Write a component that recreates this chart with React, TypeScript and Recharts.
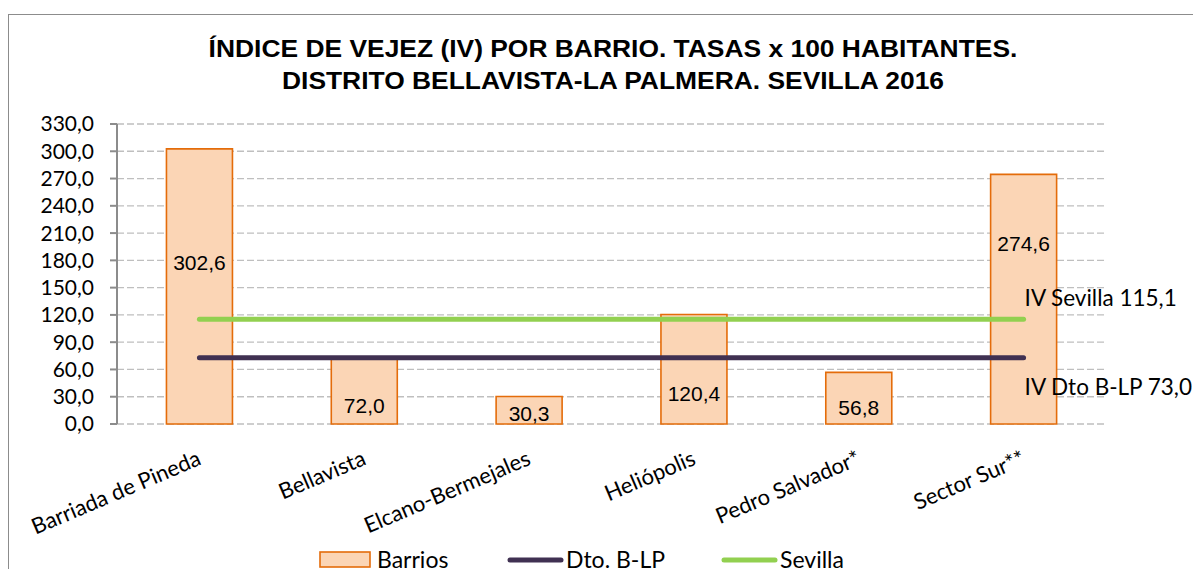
import React from "react";
import {
  ComposedChart,
  Bar,
  Line,
  XAxis,
  YAxis,
  CartesianGrid,
  LabelList,
} from "recharts";

const categories = [
  "Barriada de Pineda",
  "Bellavista",
  "Elcano-Bermejales",
  "Heliópolis",
  "Pedro Salvador*",
  "Sector Sur**",
];
const barrios = [302.6, 72.0, 30.3, 120.4, 56.8, 274.6];
const dtoBLP = [73.0, 73.0, 73.0, 73.0, 73.0, 73.0];
const sevilla = [115.1, 115.1, 115.1, 115.1, 115.1, 115.1];
// height (in axis units) at which each bar's value label sits
const labelAt = [178, 20, 12, 34, 18, 199];
const yTicks = [0, 30, 60, 90, 120, 150, 180, 210, 240, 270, 300, 330];
const edgeTicks = [0, 1, 2, 3, 4, 5, 6];

const titleLines = [
  "ÍNDICE DE VEJEZ (IV) POR BARRIO. TASAS x 100 HABITANTES.",
  "DISTRITO BELLAVISTA-LA PALMERA. SEVILLA 2016",
];

const data = categories.map((c, i) => ({
  name: c,
  barrios: barrios[i],
  dto: dtoBLP[i],
  sevilla: sevilla[i],
  labelAt: labelAt[i],
}));

const fmt = (v: number) => v.toFixed(1).replace(".", ",");

const SANS = "Lato, 'Open Sans', sans-serif";
const ARIAL = "'Liberation Sans', Arial, sans-serif";

const BAR_FILL = "#FBD5B5";
const BAR_STROKE = "#E46C0A";
const DARK = "#403152";
const GREEN = "#92D050";

const XTick = (props: any) => {
  const { x, y, payload } = props;
  const ax = x + 3;
  const ay = y + 40;
  return (
    <text
      x={ax}
      y={ay}
      transform={`rotate(-23, ${ax}, ${ay})`}
      textAnchor="end"
      fontFamily={SANS}
      fontSize={22}
      fill="#000"
    >
      {payload.value}
    </text>
  );
};

const BarLabel = (props: any) => {
  const { x, y, width, height, index } = props;
  const v = barrios[index];
  const cy = y + height - (labelAt[index] / v) * height;
  return (
    <text
      x={x + width / 2}
      y={cy}
      dy="0.36em"
      textAnchor="middle"
      fontFamily={ARIAL}
      fontSize={21}
      fill="#000"
    >
      {fmt(v)}
    </text>
  );
};

const SevillaLabel = (props: any) => {
  const { x, y, index } = props;
  if (index !== sevilla.length - 1) return null;
  return (
    <text x={x + 1} y={y - 13} fontFamily={SANS} fontSize={22.5} fill="#000">
      {`IV Sevilla ${fmt(sevilla[index])}`}
    </text>
  );
};

const DtoLabel = (props: any) => {
  const { x, y, index } = props;
  if (index !== dtoBLP.length - 1) return null;
  return (
    <text x={x + 1} y={y + 37} fontFamily={SANS} fontSize={22.5} fill="#000">
      {`IV Dto B-LP ${fmt(dtoBLP[index])}`}
    </text>
  );
};

export default function App() {
  return (
    <div
      style={{
        position: "relative",
        margin: "-8px 0 -8px -8px",
        width: 1201,
        height: 577,
        overflow: "hidden",
        background: "#fff",
      }}
    >
      <div
        style={{
          position: "absolute",
          left: 8,
          top: 14,
          width: 1300,
          height: 700,
          borderTop: "1.5px solid #8c8c8c",
          borderLeft: "1.5px solid #8c8c8c",
        }}
      />
      <div
        style={{
          position: "absolute",
          left: 0,
          top: 33,
          width: 1226,
          textAlign: "center",
          fontFamily: ARIAL,
          fontWeight: "bold",
          fontSize: 24,
          lineHeight: "32px",
          color: "#000",
          transform: "scaleX(1.1)",
          transformOrigin: "613px 0",
        }}
      >
        {titleLines.map((t) => (
          <div key={t}>{t}</div>
        ))}
      </div>
      <div style={{ position: "absolute", left: 0, top: 0 }}>
        <ComposedChart
          width={1201}
          height={577}
          data={data}
          margin={{ top: 124, right: 95, left: 37, bottom: 0 }}
          barCategoryGap="30%"
        >
          <CartesianGrid
            vertical={false}
            stroke="#bfbfbf"
            strokeDasharray="7 3"
            strokeWidth={1.3}
          />
          <XAxis
            xAxisId="edges"
            type="number"
            domain={[0, 6]}
            ticks={edgeTicks}
            allowDataOverflow
            height={1}
            axisLine={{ stroke: "#8c8c8c", strokeWidth: 2 }}
            tickLine={{ stroke: "#8c8c8c", strokeWidth: 2 }}
            tickSize={7}
            tickFormatter={() => ""}
          />
          <XAxis
            xAxisId="cat"
            dataKey="name"
            type="category"
            height={152}
            axisLine={false}
            tickLine={false}
            tickSize={0}
            tickMargin={0}
            interval={0}
            tick={<XTick />}
          />
          <YAxis
            width={80}
            domain={[0, 330]}
            ticks={yTicks}
            interval={0}
            tickFormatter={fmt}
            axisLine={{ stroke: "#8c8c8c", strokeWidth: 2 }}
            tickLine={{ stroke: "#8c8c8c", strokeWidth: 2 }}
            tickSize={7}
            tickMargin={16}
            tick={{ fontFamily: SANS, fontSize: 21, fill: "#000" }}
          />
          <Bar
            xAxisId="cat"
            dataKey="barrios"
            fill={BAR_FILL}
            stroke={BAR_STROKE}
            strokeWidth={1.6}
            isAnimationActive={false}
          >
            <LabelList dataKey="barrios" content={<BarLabel />} />
          </Bar>
          <Line
            xAxisId="cat"
            dataKey="dto"
            stroke={DARK}
            strokeWidth={5}
            strokeLinecap="round"
            dot={false}
            activeDot={false}
            isAnimationActive={false}
          >
            <LabelList dataKey="dto" content={<DtoLabel />} />
          </Line>
          <Line
            xAxisId="cat"
            dataKey="sevilla"
            stroke={GREEN}
            strokeWidth={5}
            strokeLinecap="round"
            dot={false}
            activeDot={false}
            isAnimationActive={false}
          >
            <LabelList dataKey="sevilla" content={<SevillaLabel />} />
          </Line>
        </ComposedChart>
      </div>
      <svg
        width={1201}
        height={577}
        style={{ position: "absolute", left: 0, top: 0, pointerEvents: "none" }}
      >
        <rect x={320} y={552} width={50} height={15} fill={BAR_FILL} stroke={BAR_STROKE} strokeWidth={1.6} />
        <text x={377} y={568} fontFamily={SANS} fontSize={23} fill="#000">Barrios</text>
        <line x1={510} y1={560} x2={561} y2={560} stroke={DARK} strokeWidth={5} strokeLinecap="round" />
        <text x={566} y={568} fontFamily={SANS} fontSize={23} fill="#000">Dto. B-LP</text>
        <line x1={724} y1={560} x2={775} y2={560} stroke={GREEN} strokeWidth={5} strokeLinecap="round" />
        <text x={780} y={568} fontFamily={SANS} fontSize={23} fill="#000">Sevilla</text>
      </svg>
    </div>
  );
}
